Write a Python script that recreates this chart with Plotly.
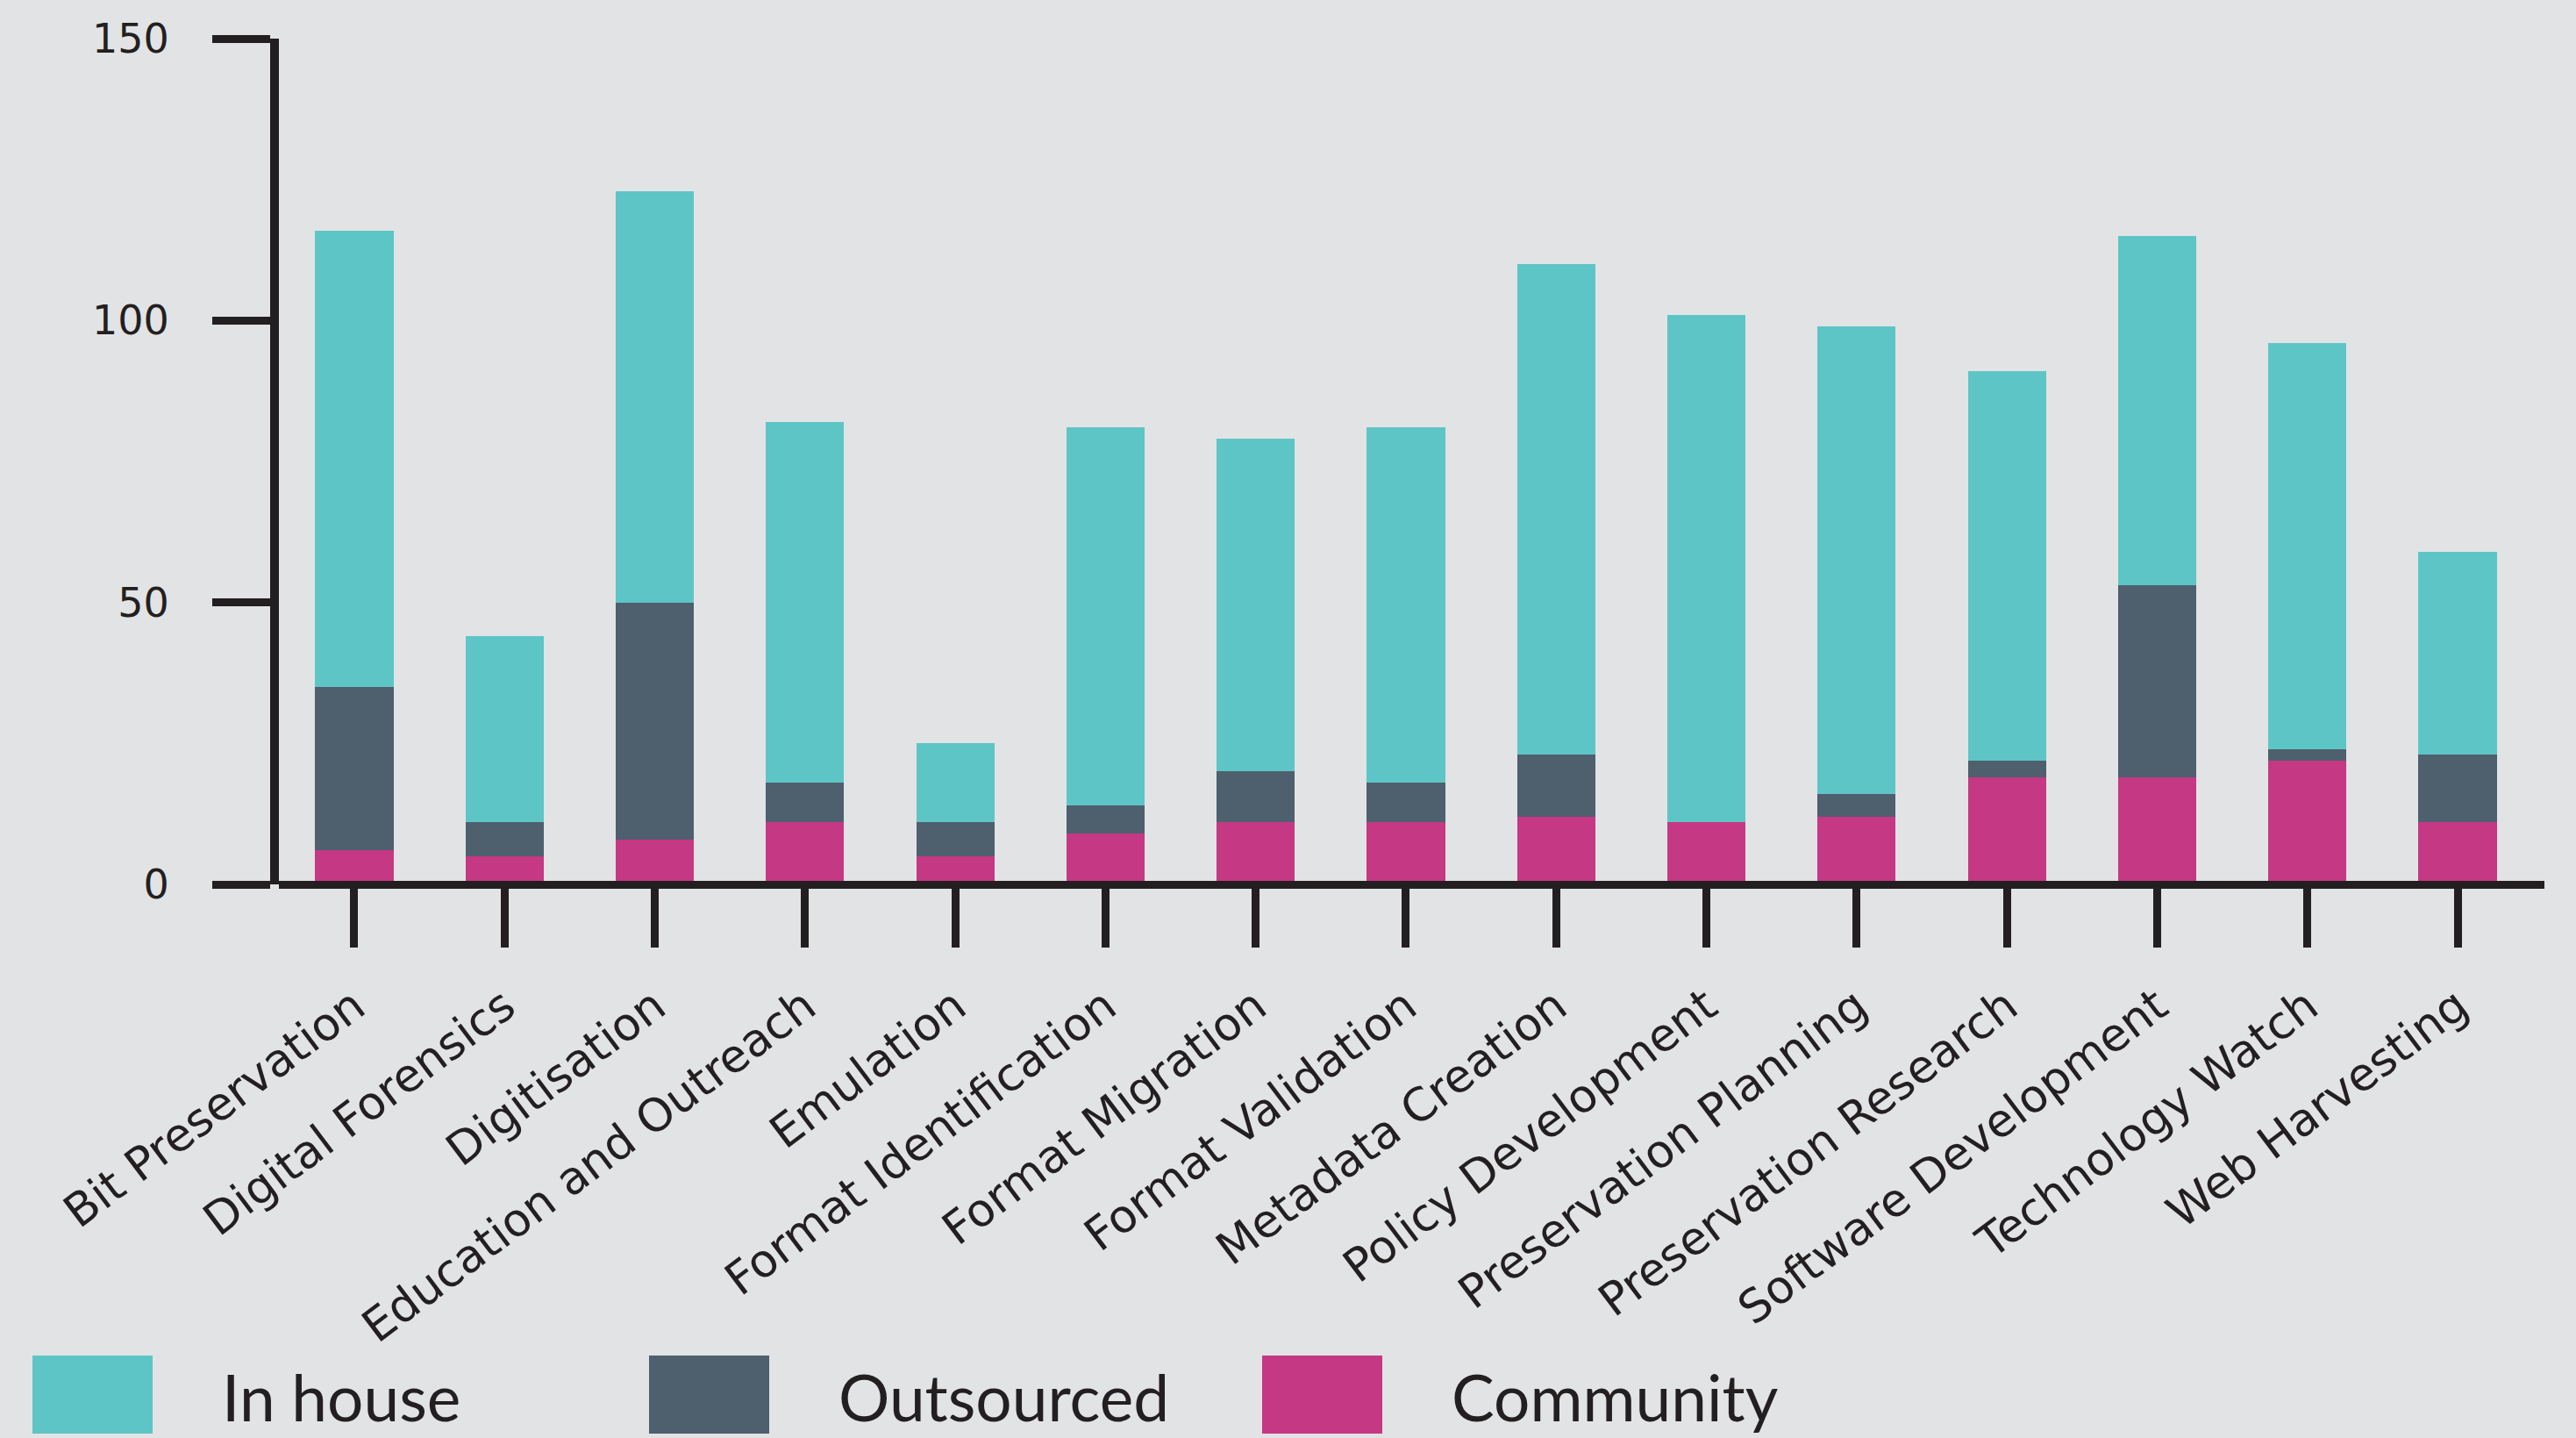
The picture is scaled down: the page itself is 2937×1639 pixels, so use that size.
import plotly.graph_objects as go

categories = ["Bit Preservation", "Digital Forensics", "Digitisation",
              "Education and Outreach", "Emulation", "Format Identification",
              "Format Migration", "Format Validation", "Metadata Creation",
              "Policy Development", "Preservation Planning",
              "Preservation Research", "Software Development",
              "Technology Watch", "Web Harvesting"]

community = [6, 5, 8, 11, 5, 9, 11, 11, 12, 11, 12, 19, 19, 22, 11]
outsourced = [29, 6, 42, 7, 6, 5, 9, 7, 11, 0, 4, 3, 34, 2, 12]
in_house = [81, 33, 73, 64, 14, 67, 59, 63, 87, 90, 83, 69, 62, 72, 36]

y_ticks = [0, 50, 100, 150]

series = [("Community", community), ("Outsourced", outsourced), ("In house", in_house)]
legend_order = ["In house", "Outsourced", "Community"]
colors = {"In house": "#5ec5c6", "Outsourced": "#4e5f6e", "Community": "#c53884"}

INK = "#231f20"
BG = "#e2e3e5"
W, H = 2937, 1639
ML, MR, MT, MB = 318, 36, 44, 631

fig = go.Figure()
for name, vals in series:
    fig.add_trace(go.Bar(x=categories, y=vals, name=name,
                         marker=dict(color=colors[name], line=dict(width=0)),
                         showlegend=False))

fig.update_layout(
    width=W, height=H,
    barmode="stack", bargap=0.48,
    paper_bgcolor=BG, plot_bgcolor=BG,
    margin=dict(l=ML, r=MR, t=MT, b=MB, pad=0),
    font=dict(family="DejaVu Sans", color=INK),
)

fig.update_xaxes(
    type="category", range=[-0.502, 14.578],
    showline=False, showgrid=False, zeroline=False,
    ticks="outside", ticklen=71, tickwidth=9, tickcolor=INK,
    tickangle=-37, tickfont=dict(family="DejaVu Sans", size=52, color=INK),
    ticklabelstandoff=16,
)
fig.update_yaxes(
    range=[0, 150], tickvals=y_ticks,
    showline=True, linewidth=10, linecolor=INK,
    showgrid=False,
    zeroline=True, zerolinewidth=9, zerolinecolor=INK,
    ticks="outside", ticklen=66, tickwidth=9, tickcolor=INK,
    tickfont=dict(family="DejaVu Sans", size=46, color=INK),
    ticklabelstandoff=40, layer="above traces",
)
try:
    fig.update_yaxes(zerolinelayer="above traces")
except Exception:
    pass

# custom legend (large swatches)
pw = W - ML - MR
ph = H - MT - MB
def px(x):
    return (x - ML) / pw
def py(y):
    return (H - MB - y) / ph

sw_left = [37, 740, 1439]
for i, name in enumerate(legend_order):
    x0 = sw_left[i]
    fig.add_shape(type="rect", xref="paper", yref="paper",
                  x0=px(x0), x1=px(x0 + 137), y0=py(1634), y1=py(1545),
                  fillcolor=colors[name], line=dict(width=0), layer="above")
    fig.add_annotation(xref="paper", yref="paper", x=px(x0 + 214), y=py(1592),
                       text=name, showarrow=False, xanchor="left", yanchor="middle",
                       font=dict(family="Lato", size=73, color=INK))

fig.write_html("out.html", config={"displayModeBar": False},
               post_script="document.body.style.margin='0';document.body.style.overflow='hidden';")
